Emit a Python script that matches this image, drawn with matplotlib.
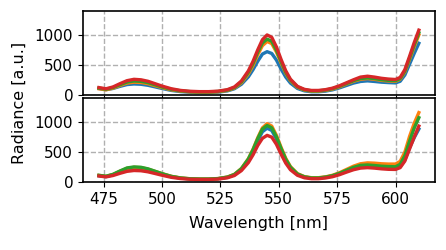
import numpy as np
import matplotlib
matplotlib.use("Agg")
import matplotlib.pyplot as plt

wl = [473, 476, 479, 482, 485, 488, 491, 494, 497, 500, 504, 508, 512, 516, 520, 524, 528, 531, 534, 537,
      539, 541, 543, 545, 547, 549, 551, 553, 555, 558, 561, 564, 567, 570, 573, 576, 579, 582, 585, 588,
      591, 594, 597, 600, 602, 604, 606, 608, 610]

# top panel
top_blue = [105, 85, 105, 140, 170, 180, 175, 158, 132, 105, 72, 52, 42, 38, 38, 44, 64, 100, 175, 300,
            420, 560, 680, 720, 690, 580, 430, 295, 195, 105, 65, 50, 50, 60, 82, 115, 155, 195, 222, 232,
            222, 210, 203, 198, 225, 330, 510, 690, 860]
top_orange = [100, 82, 110, 155, 195, 210, 205, 185, 152, 120, 82, 60, 48, 43, 43, 50, 72, 112, 200, 350,
              490, 670, 820, 890, 855, 715, 530, 360, 235, 125, 78, 60, 60, 72, 95, 132, 180, 225, 258, 270,
              258, 240, 230, 225, 260, 380, 590, 800, 1000]
top_green = [110, 92, 120, 168, 212, 230, 224, 202, 167, 130, 90, 65, 52, 47, 47, 55, 78, 120, 215, 375,
             525, 710, 865, 930, 895, 745, 555, 375, 245, 132, 83, 65, 65, 78, 102, 140, 188, 235, 270, 282,
             270, 252, 240, 235, 270, 395, 610, 830, 1035]
top_red = [120, 100, 130, 185, 235, 258, 250, 225, 185, 145, 100, 72, 58, 52, 52, 60, 85, 130, 230, 400,
           560, 750, 920, 1000, 960, 800, 590, 400, 260, 140, 90, 72, 72, 85, 110, 150, 200, 250, 295, 310,
           295, 275, 262, 255, 290, 420, 640, 870, 1080]

# bottom panel
bot_blue = [105, 90, 120, 172, 220, 236, 230, 206, 170, 133, 90, 64, 52, 47, 47, 55, 78, 120, 212, 365,
            515, 690, 840, 900, 862, 720, 535, 362, 236, 128, 82, 65, 65, 78, 101, 140, 188, 235, 264, 270,
            260, 245, 232, 225, 255, 370, 570, 740, 885]
bot_orange = [110, 95, 125, 180, 228, 245, 240, 215, 178, 140, 95, 68, 55, 50, 50, 58, 83, 128, 225, 390,
              550, 740, 905, 975, 935, 780, 580, 395, 258, 140, 90, 72, 72, 86, 112, 155, 210, 265, 305, 320,
              315, 305, 300, 300, 345, 500, 760, 980, 1160]
bot_green = [112, 96, 128, 184, 235, 252, 246, 220, 180, 140, 94, 67, 54, 49, 49, 57, 82, 126, 222, 385,
             540, 725, 885, 945, 905, 755, 560, 380, 248, 134, 86, 68, 68, 82, 106, 146, 196, 245, 278, 285,
             276, 264, 258, 255, 295, 440, 680, 900, 1075]
bot_red = [100, 85, 108, 145, 178, 192, 188, 170, 142, 113, 78, 57, 46, 42, 42, 49, 70, 108, 190, 325,
           455, 610, 730, 780, 750, 630, 465, 315, 205, 112, 70, 55, 55, 67, 88, 122, 165, 205, 232, 240,
           232, 220, 212, 210, 240, 350, 550, 750, 935]

fig, (ax1, ax2) = plt.subplots(2, 1, sharex=True, figsize=(4.46, 2.5), dpi=100)
fig.subplots_adjust(left=0.186, right=0.975, top=0.956, bottom=0.272, hspace=0.042)

for ax, series in [(ax1, [top_blue, top_orange, top_green, top_red]),
                   (ax2, [bot_blue, bot_orange, bot_green, bot_red])]:
    for s in series:
        ax.plot(wl, s, lw=2.4)
    ax.set_ylim(0, 1400)
    ax.set_yticks([0, 500, 1000])
    ax.grid(True, linestyle='--', color='#b0b0b0', lw=1)
    ax.tick_params(labelsize=11)
    for sp in ax.spines.values():
        sp.set_linewidth(1.2)

ax2.set_xticks([475, 500, 525, 550, 575, 600])
ax2.set_xlabel('Wavelength [nm]', fontsize=11.5, labelpad=7)
fig.text(0.043, 0.587, 'Radiance [a.u.]', rotation=90, ha='center', va='center', fontsize=11.5)

fig.savefig('out.png', dpi=100)
